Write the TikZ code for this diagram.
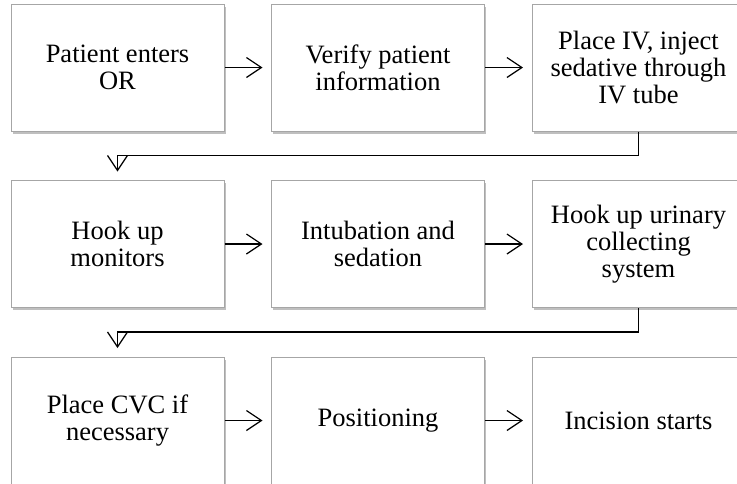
\documentclass[tikz,border=0pt]{standalone}
\usepackage{fontspec}
\setmainfont{Liberation Serif}
\usetikzlibrary{arrows.meta,shadows}
\begin{document}
\begin{tikzpicture}[x=1pt,y=1pt,
  stepbox/.style={draw=black!35, line width=1pt, fill=white,
    minimum width=213pt, minimum height=127pt, inner sep=0pt,
    align=center, font=\fontsize{26.5}{27}\selectfont,
    drop shadow={shadow xshift=1.5pt, shadow yshift=-2.5pt, fill=black, opacity=0.25}},
  flow/.style={line width=1.2pt, -{Straight Barb[length=15pt,width=20pt,line width=1.2pt]}, shorten >=8.5pt}
]
\useasboundingbox (0,0) rectangle (737,-483);
\fill[white] (0,0) rectangle (737,-483);
\node[stepbox] (a1) at (117.5,-67.5) {Patient enters\\OR};
\node[stepbox] (a2) at (378,-67.5) {Verify patient\\information};
\node[stepbox] (a3) at (638.5,-67.5) {Place IV, inject\\sedative through\\IV tube};
\node[stepbox] (b1) at (117.5,-244) {Hook up\\monitors};
\node[stepbox] (b2) at (378,-244) {Intubation and\\sedation};
\node[stepbox] (b3) at (638.5,-244) {Hook up urinary\\collecting\\system};
\node[stepbox] (c1) at (117.5,-420.5) {Place CVC if\\necessary};
\node[stepbox] (c2) at (378,-420.5) {\raisebox{-3pt}{Positioning}};
\node[stepbox] (c3) at (638.5,-420.5) {\raisebox{-2pt}{Incision starts}};
\draw[flow] (a1.east) -- (a2.west);
\draw[flow] (a2.east) -- (a3.west);
\draw[flow] (b1.east) -- (b2.west);
\draw[flow] (b2.east) -- (b3.west);
\draw[flow] (c1.east) -- (c2.west);
\draw[flow] (c2.east) -- (c3.west);
\draw[flow] (a3.south) -- ++(0,-24) -| (b1.north);
\draw[flow] (b3.south) -- ++(0,-24) -| (c1.north);
\end{tikzpicture}
\end{document}
